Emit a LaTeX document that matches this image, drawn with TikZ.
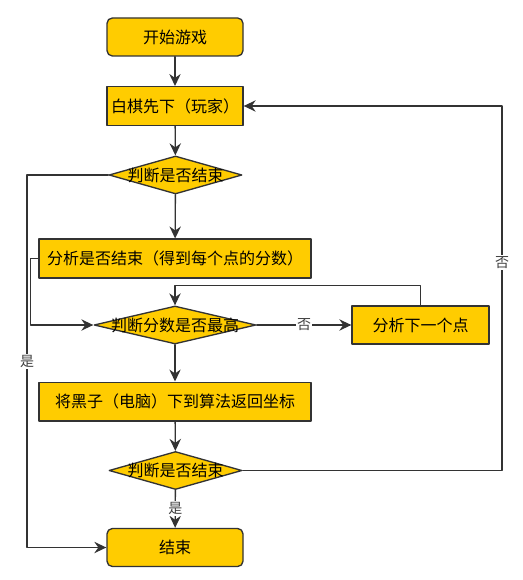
\documentclass[tikz,border=0pt]{standalone}
\usepackage{fontspec}
\newfontfamily\cjkfont{Noto Sans CJK SC}
\usetikzlibrary{arrows.meta,calc,positioning,shapes.geometric}

\definecolor{boxyellow}{HTML}{FFCC00}

\begin{document}
\begin{tikzpicture}[
  x=0.75pt,y=-0.75pt,font=\cjkfont\fontsize{12}{14}\selectfont,
  line cap=round,line join=round,
  flow/.style={-{Stealth[length=9pt,width=8.5pt,inset=3pt]},black!80,line width=1pt},
  termbox/.style={rectangle,rounded corners=4pt,draw=black!80,fill=boxyellow,
    line width=1pt,minimum width=102pt,minimum height=28.5pt,inner sep=0pt},
  procbox/.style={rectangle,draw=black!80,fill=boxyellow,line width=1pt,
    minimum width=204pt,minimum height=29pt,inner sep=0pt},
  decide/.style={diamond,draw=black!80,fill=boxyellow,line width=1pt,
    minimum width=99.75pt,minimum height=28.5pt,inner sep=0pt},
  edgelabel/.style={fill=white,inner sep=1pt,text=black!75,
    font=\cjkfont\fontsize{10.5}{12}\selectfont}
]
  \useasboundingbox (0,0) rectangle (523,580);

  % Main column of steps.
  \node[termbox] (start) at (175,37) {开始游戏};
  \node[procbox,minimum width=102pt] (player) at (175,106) {白棋先下（玩家）};
  \node[decide] (endchk1) at (175.5,175) {\makebox[0pt]{判断是否结束}};
  \node[procbox] (score) at (175,258.5) {分析是否结束（得到每个点的分数）};
  \node[decide,minimum width=121.5pt] (best) at (175,325)
    {\makebox[0pt]{判断分数是否最高}};
  \node[procbox,minimum width=102.75pt,minimum height=28.5pt] (nextpt)
    at (420.5,325) {分析下一个点};
  \node[procbox] (black) at (175,401.5) {将黑子（电脑）下到算法返回坐标};
  \node[decide] (endchk2) at (175.5,470.5) {\makebox[0pt]{判断是否结束}};
  \node[termbox] (stop) at (175,547.5) {结束};

  % Rails for the side connectors.
  \coordinate (leftrail) at (27,0);
  \coordinate (rightrail) at (502,0);

  \draw[flow] (start) -- (player);
  \draw[flow] (player) -- (endchk1);
  \draw[flow] (endchk1) -- (score);
  \draw[flow] (endchk1.west) -- (endchk1.west -| leftrail)
    -- node[edgelabel,pos=0.5] {是} (stop.west -| leftrail) -- (stop.west);

  % Score loop.
  \draw[flow] (score.west) -- ++(-8,0) |- (best.west);
  \draw[flow] (best) -- node[edgelabel] {否} (nextpt);
  \draw[flow] (nextpt.north) -- ++(0,-20) -| (best.north);
  \draw[flow] (best) -- (black);
  \draw[flow] (black) -- (endchk2);
  \draw[flow] (endchk2) -- node[edgelabel,pos=0.48] {是} (stop);

  % Back to the player's move.
  \draw[flow] (endchk2.east) -- (endchk2.east -| rightrail)
    -- node[edgelabel,pos=0.57] {否} (player.east -| rightrail) -- (player.east);
\end{tikzpicture}
\end{document}
